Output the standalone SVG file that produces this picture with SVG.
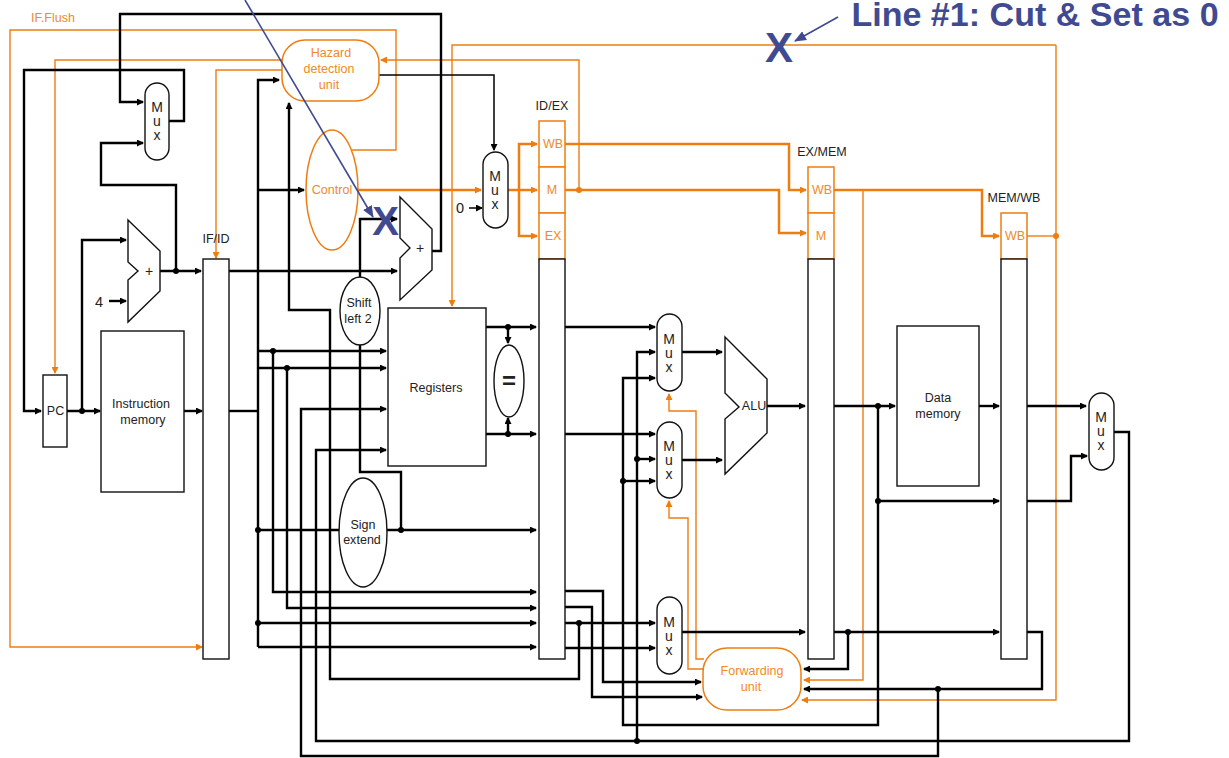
<svg xmlns="http://www.w3.org/2000/svg" width="1229" height="758" viewBox="0 0 1229 758">
<style>
text{font-family:"Liberation Sans",Arial,sans-serif;fill:#222;font-size:12.500px;letter-spacing:.03px;text-anchor:middle;dominant-baseline:central}
text.o{fill:#ef8a2a}
.node{fill:#fff;stroke:#111;stroke-width:1.4}
.onode{fill:#fff;stroke:#ee7d11;stroke-width:1.5}
text.m{font-size:14px}
text.big{font-size:14.500px}
path.k,path.kt,path.ot,path.oT{fill:none;stroke-linejoin:miter}
.k{stroke:#000;stroke-width:2.4}
.kt{stroke:#000;stroke-width:1.5}
.ot{stroke:#ee7d11;stroke-width:1.4}
.oT{stroke:#ee7d11;stroke-width:2.5}
.a{marker-end:url(#ak)}
.b{marker-end:url(#ao)}
.dk{fill:#000}
.do{fill:#ee7d11}
text.blue{fill:#3f4a91;font-weight:bold}
</style>
<defs>
<marker id="ak" viewBox="0 0 7 7" markerUnits="userSpaceOnUse" markerWidth="7" markerHeight="7" refX="6" refY="3.5" orient="auto"><path d="M0,0L7,3.5L0,7Z" fill="#000"/></marker>
<marker id="ao" viewBox="0 0 7 7" markerUnits="userSpaceOnUse" markerWidth="7" markerHeight="7" refX="6" refY="3.5" orient="auto"><path d="M0,0L7,3.5L0,7Z" fill="#ee7d11"/></marker>
<marker id="ab" viewBox="0 0 12 10" markerUnits="userSpaceOnUse" markerWidth="12" markerHeight="10" refX="11" refY="5" orient="auto"><path d="M0,0L12,5L0,10Z" fill="#3f4a91"/></marker>
</defs>
<g id="connectors">
<g id="control-lines">
<path class="ot b" d="M352,150H396V30H10V647H202"/>
<path class="ot b" d="M282,60H55V373"/>
<path class="ot b" d="M282,70H216V258"/>
<path class="ot b" d="M579,190V60H381"/>
<path class="ot b" d="M1056,45H452V306"/>
<path class="ot b" d="M1056,45V700H802"/>
<path class="ot" d="M1027,236H1056"/>
<path class="ot b" d="M863,190V680H804"/>
<path class="ot b" d="M704,659H696V411H669V394"/>
<path class="ot b" d="M704,669H688V518H669V501"/>
<path class="oT b" d="M358,190H481"/>
<path class="oT b" d="M508,190H537"/>
<path class="oT b" d="M519,190V144H537"/>
<path class="oT b" d="M519,190V236H537"/>
<path class="oT b" d="M565,144H789V190H806"/>
<path class="oT b" d="M565,190H779V233H806"/>
<path class="oT b" d="M834,190H982V236H999"/>
<circle class="do" cx="579" cy="190" r="3"/>
<circle class="do" cx="1056" cy="236" r="3"/>
</g>
<g id="data-lines">
<path class="k a" d="M431,251H441V14H120V102H143"/>
<path class="k a" d="M168,121H184V70H24V411H41"/>
<path class="k a" d="M176,271V185H101V143H143"/>
<path class="k a" d="M82,411V240H126"/>
<path class="k a" d="M109,301H126"/>
<path class="k a" d="M160,271H201"/>
<path class="k a" d="M229,271H397"/>
<path class="k a" d="M360,277V219H397"/>
<path class="k a" d="M579,623V679H330V310H289V103"/>
<path class="k" d="M229,411H258"/>
<path class="k a" d="M258,647V80H279"/>
<path class="k a" d="M258,647H536"/>
<path class="k a" d="M258,190H304"/>
<path class="k a" d="M258,351H386"/>
<path class="k a" d="M258,368H386"/>
<path class="k a" d="M273,351V592H536"/>
<path class="k a" d="M287,368V608H536"/>
<path class="k" d="M258,530H339"/>
<path class="k a" d="M258,623H536"/>
<path class="k a" d="M938,689V756H301V409H386"/>
<path class="k a" d="M1114,432H1129V741H316V450H386"/>
<path class="k a" d="M387,530H536"/>
<path class="k" d="M401,530V472H360V344"/>
<path class="k a" d="M486,327H536"/>
<path class="k a" d="M508,327V343"/>
<path class="k a" d="M486,434H536"/>
<path class="k a" d="M508,434V418"/>
<path class="k a" d="M565,327H655"/>
<path class="k a" d="M565,434H655"/>
<path class="k a" d="M682,352H722"/>
<path class="k a" d="M682,460H722"/>
<path class="k a" d="M637,741V352H655"/>
<path class="k a" d="M637,459H655"/>
<path class="k a" d="M623,481H655"/>
<path class="k a" d="M878,406V725H623V378H655"/>
<path class="k a" d="M767,406H805"/>
<path class="k a" d="M834,406H895"/>
<path class="k a" d="M979,406H999"/>
<path class="k a" d="M878,501H999"/>
<path class="k a" d="M1027,406H1086"/>
<path class="k a" d="M1027,501H1071V456H1087"/>
<path class="k a" d="M565,623H655"/>
<path class="k a" d="M565,648H655"/>
<path class="k a" d="M565,591H603V682H701"/>
<path class="k a" d="M565,607H592V697H702"/>
<path class="k a" d="M682,632H805"/>
<path class="k a" d="M834,632H999"/>
<path class="k a" d="M848,632V669H804"/>
<path class="k a" d="M1027,632H1042V689H804"/>
<path class="k a" d="M184,411H202"/>
<path class="k a" d="M67,411H100"/>
<path class="kt a" d="M379,75H494V150"/>
<path class="kt a" d="M469,208H482"/>
<g class="dk">
<circle cx="176" cy="271" r="3"/><circle cx="82" cy="411" r="3"/>
<circle cx="273" cy="351" r="3"/><circle cx="287" cy="368" r="3"/>
<circle cx="258" cy="530" r="3"/><circle cx="258" cy="623" r="3"/>
<circle cx="401" cy="530" r="3"/><circle cx="508" cy="327" r="3"/><circle cx="508" cy="434" r="3"/>
<circle cx="637" cy="459" r="3"/><circle cx="623" cy="481" r="3"/><circle cx="637" cy="741" r="3"/>
<circle cx="579" cy="623" r="3"/><circle cx="878" cy="406" r="3"/><circle cx="878" cy="501" r="3"/>
<circle cx="848" cy="632" r="3"/><circle cx="938" cy="689" r="3"/>
</g>
</g>
</g>
<g id="pc"><rect class="node" x="43" y="375" width="24" height="72"/><text x="55.500" y="411">PC</text></g>
<g id="mux-pc"><rect class="node" x="145" y="83" width="24" height="77" rx="12"/><text class="m" x="157" y="107">M</text><text class="m" x="157" y="121">u</text><text class="m" x="157" y="135">x</text></g>
<g id="adder-pc"><path class="node" d="M128,220L160,251V291L128,322V280L138,271L128,262Z"/><text class="m" x="149" y="271">+</text></g>
<text id="label-4" class="big" x="99" y="302">4</text>
<g id="instruction-memory"><rect class="node" x="101" y="331" width="83" height="161"/><text x="141" y="404">Instruction</text><text x="143" y="420">memory</text></g>
<g id="if-id"><rect class="node" x="203" y="259" width="26" height="400"/><text x="216" y="239">IF/ID</text></g>
<g id="hazard"><rect class="onode" x="282" y="40" width="97" height="61" rx="23"/><text class="o" x="331" y="53">Hazard</text><text class="o" x="329" y="69">detection</text><text class="o" x="329" y="85">unit</text></g>
<g id="control"><ellipse class="onode" cx="332" cy="190" rx="26" ry="60"/><text class="o" x="332" y="190">Control</text></g>
<g id="adder-branch"><path class="node" d="M400,197L432,229V270L400,300V258L410,248L400,238Z"/><text class="m" x="420" y="248">+</text></g>
<g id="shift-left"><ellipse class="node" cx="360" cy="311" rx="20" ry="34"/><text x="359" y="303">Shift</text><text x="358" y="319">left 2</text></g>
<g id="sign-extend"><ellipse class="node" cx="363" cy="532.500" rx="24" ry="54.500"/><text x="363" y="525">Sign</text><text x="362" y="540">extend</text></g>
<g id="registers"><rect class="node" x="388" y="308" width="98" height="158"/><text x="436" y="388">Registers</text></g>
<g id="equals"><ellipse class="node" cx="509" cy="381" rx="15" ry="36"/><text x="509" y="380" style="font-size:24px;font-weight:bold">=</text></g>
<g id="mux-control"><rect class="node" x="483" y="152" width="25" height="76" rx="12.500"/><text class="m" x="495" y="176">M</text><text class="m" x="495" y="190">u</text><text class="m" x="495" y="204">x</text></g>
<text id="label-0" class="big" x="460" y="208">0</text>
<g id="id-ex"><rect class="onode" x="539" y="121" width="26" height="46"/><rect class="onode" x="539" y="167" width="26" height="46"/><rect class="onode" x="539" y="213" width="26" height="46"/><rect class="node" x="539" y="259" width="26" height="400"/><text x="552" y="106">ID/EX</text><text class="o" x="553" y="144">WB</text><text class="o" x="552" y="190">M</text><text class="o" x="553" y="236">EX</text></g>
<g id="mux-a"><rect class="node" x="657" y="314" width="25" height="77" rx="12.500"/><text class="m" x="669" y="339">M</text><text class="m" x="669" y="353">u</text><text class="m" x="669" y="367">x</text></g>
<g id="mux-b"><rect class="node" x="657" y="422" width="25" height="76" rx="12.500"/><text class="m" x="669" y="446">M</text><text class="m" x="669" y="460">u</text><text class="m" x="669" y="474">x</text></g>
<g id="mux-c"><rect class="node" x="657" y="597" width="25" height="77" rx="12.500"/><text class="m" x="669" y="622">M</text><text class="m" x="669" y="636">u</text><text class="m" x="669" y="650">x</text></g>
<g id="alu"><path class="node" d="M725,337L767,379V433L725,474V419L739,407L725,393Z"/><text x="754" y="406">ALU</text></g>
<g id="ex-mem"><rect class="onode" x="808" y="167" width="26" height="46"/><rect class="onode" x="808" y="213" width="26" height="46"/><rect class="node" x="808" y="259" width="26" height="400"/><text x="822" y="152">EX/MEM</text><text class="o" x="822" y="190">WB</text><text class="o" x="821" y="236">M</text></g>
<g id="data-memory"><rect class="node" x="897" y="326" width="82" height="160"/><text x="938" y="398">Data</text><text x="938" y="414">memory</text></g>
<g id="mem-wb"><rect class="onode" x="1001" y="213" width="26" height="46"/><rect class="node" x="1001" y="259" width="26" height="400"/><text x="1014" y="198">MEM/WB</text><text class="o" x="1015" y="236">WB</text></g>
<g id="mux-wb"><rect class="node" x="1089" y="393" width="25" height="77" rx="12.500"/><text class="m" x="1101" y="417">M</text><text class="m" x="1101" y="431">u</text><text class="m" x="1101" y="445">x</text></g>
<g id="forwarding"><rect class="onode" x="703" y="648" width="98" height="62" rx="24"/><text class="o" x="752" y="671">Forwarding</text><text class="o" x="751" y="687">unit</text></g>
<text id="if-flush" class="o" x="53" y="18">IF.Flush</text>
<g id="annotations">
<path d="M245,0L373,217" fill="none" stroke="#3f4a91" stroke-width="1.6" marker-end="url(#ab)"/>
<path d="M838,17L795,41" fill="none" stroke="#3f4a91" stroke-width="1.6" marker-end="url(#ab)"/>
<text class="blue" x="385.500" y="221" style="font-size:40px">X</text>
<text class="blue" x="779" y="47" style="font-size:42px">X</text>
<text class="blue" x="1035" y="26" style="font-size:34px;dominant-baseline:alphabetic">Line #1: Cut &amp; Set as 0</text>
</g>
</svg>
